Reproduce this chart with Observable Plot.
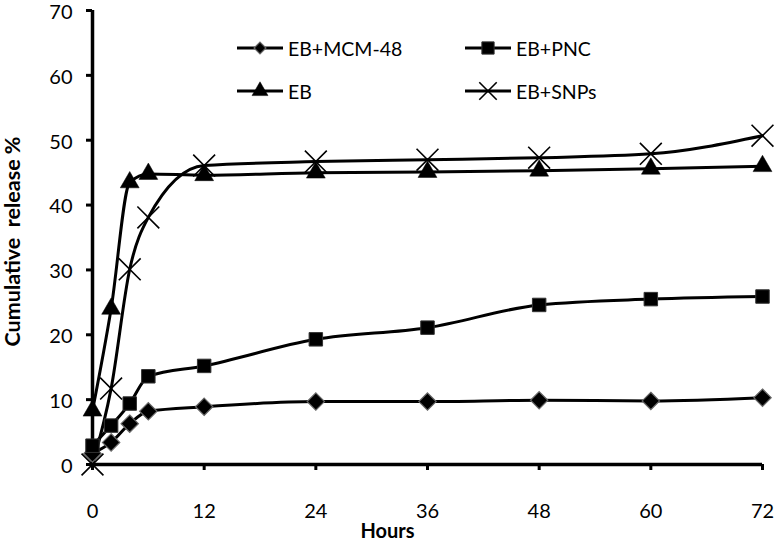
<!DOCTYPE html>
<html>
<head>
<meta charset="utf-8">
<script src="https://cdn.jsdelivr.net/npm/d3@7"></script>
<script src="https://cdn.jsdelivr.net/npm/@observablehq/plot@0.6"></script>
<style>
  html, body { margin: 0; padding: 0; background: #fff; }
  #wrap { position: relative; width: 774px; height: 544px; font-family: Lato, "Open Sans", sans-serif; }
  #wrap > svg { overflow: visible; }
  #legend { position: absolute; left: 0; top: 0; }
  .item { position: absolute; display: flex; align-items: center; font-size: 19.5px; color: #000; white-space: nowrap; }
  .item svg { margin-right: 5px; }
</style>
</head>
<body>
<div id="wrap"><div id="legend"></div></div>
<script>
const hours = [0, 2, 4, 6, 12, 24, 36, 48, 60, 72];
const seriesNames = ["EB+MCM-48", "EB+PNC", "EB", "EB+SNPs"];
const mcm48 = [1.7, 3.4, 6.3, 8.2, 8.9, 9.7, 9.7, 9.9, 9.8, 10.3];
const pnc   = [2.9, 6.0, 9.4, 13.6, 15.2, 19.3, 21.1, 24.6, 25.5, 25.9];
const eb    = [8.3, 24.0, 43.5, 44.8, 44.6, 45.0, 45.1, 45.3, 45.6, 46.0];
const snps  = [0.0, 11.7, 30.1, 38.1, 46.1, 46.7, 47.0, 47.3, 47.9, 50.7];
const xTicks = [0, 12, 24, 36, 48, 60, 72];
const yTicks = [0, 10, 20, 30, 40, 50, 60, 70];

const valuesBySeries = {"EB+MCM-48": mcm48, "EB+PNC": pnc, "EB": eb, "EB+SNPs": snps};
const data = seriesNames.flatMap(s => hours.map((h, i) => ({series: s, t: h, v: valuesBySeries[s][i]})));

const style = {
  "EB+MCM-48": {symbol: "diamond2", r: 7.8, fill: "#000", stroke: "#666", sw: 1.2},
  "EB+PNC":    {symbol: "square", r: 7.6, fill: "#000", stroke: "#333", sw: 1},
  "EB":        {symbol: "triangle", r: 7.0, fill: "#000", stroke: "#000", sw: 0.5},
  "EB+SNPs":   {symbol: "times", r: 10, fill: "none", stroke: "#000", sw: 1.6}
};

const FONT = "Lato, 'Open Sans', sans-serif";

const dotMarks = seriesNames.map(s => Plot.dot(data.filter(d => d.series === s), {
  x: "t", y: "v", symbol: () => style[s].symbol, r: style[s].r,
  fill: style[s].fill, stroke: style[s].stroke, strokeWidth: style[s].sw
}));

const chart = Plot.plot({
  width: 774,
  height: 544,
  marginLeft: 92,
  marginRight: 12,
  marginTop: 10,
  marginBottom: 80,
  style: {fontFamily: FONT, fontSize: "20px", color: "#000", background: "#fff", overflow: "visible"},
  x: {domain: [0, 72]},
  y: {domain: [0, 70]},
  symbol: {type: "identity"},
  marks: [
    Plot.axisY({ticks: yTicks, tickSize: 6, tickFormat: () => "", strokeWidth: 3, label: null}),
    Plot.axisY({ticks: yTicks, tickSize: 0, tickPadding: 20, dy: 2, fontSize: 20, label: null}),
    Plot.axisX({ticks: xTicks, tickSize: 6, tickPadding: 33, strokeWidth: 3, fontSize: 20, label: null}),
    Plot.ruleX([0], {strokeWidth: 3.5, stroke: "#000"}),
    Plot.ruleY([0], {strokeWidth: 3.5, stroke: "#000"}),
    Plot.line(data, {x: "t", y: "v", z: "series", stroke: "#000", strokeWidth: 3, curve: "monotone-x"}),
    ...dotMarks,
    Plot.text(["Hours"], {frameAnchor: "bottom", dx: -40, dy: 73, fontWeight: "bold", fontSize: 20}),
    Plot.text(["Cumulative  release %"], {frameAnchor: "left", textAnchor: "middle", dx: -79.5, dy: 4, rotate: -90, fontWeight: "bold", fontSize: 21.5})
  ]
});
document.getElementById("wrap").prepend(chart);

// Legend (HTML overlay)
const legendPos = {
  "EB+MCM-48": [237, 48],
  "EB+PNC": [465, 48],
  "EB": [237, 91],
  "EB+SNPs": [465, 91]
};
const legendSym = {
  "EB+MCM-48": {type: d3.symbolDiamond2, size: 90},
  "EB+PNC": {type: d3.symbolSquare, size: 150},
  "EB": {type: d3.symbolTriangle, size: 110},
  "EB+SNPs": {type: d3.symbolTimes, size: 200}
};
const legend = d3.select("#legend");
for (const s of seriesNames) {
  const [lx, ly] = legendPos[s];
  const item = legend.append("div").attr("class", "item")
    .style("left", lx + "px").style("top", (ly - 14) + "px").style("height", "28px");
  const svg = item.append("svg").attr("width", 46).attr("height", 28);
  svg.append("line").attr("x1", 0).attr("x2", 46).attr("y1", 14).attr("y2", 14)
    .attr("stroke", "#000").attr("stroke-width", 3);
  svg.append("path").attr("transform", "translate(23,14)")
    .attr("d", d3.symbol(legendSym[s].type, legendSym[s].size)())
    .attr("fill", style[s].fill).attr("stroke", style[s].stroke).attr("stroke-width", style[s].sw);
  item.append("span").text(s);
}
</script>
</body>
</html>
